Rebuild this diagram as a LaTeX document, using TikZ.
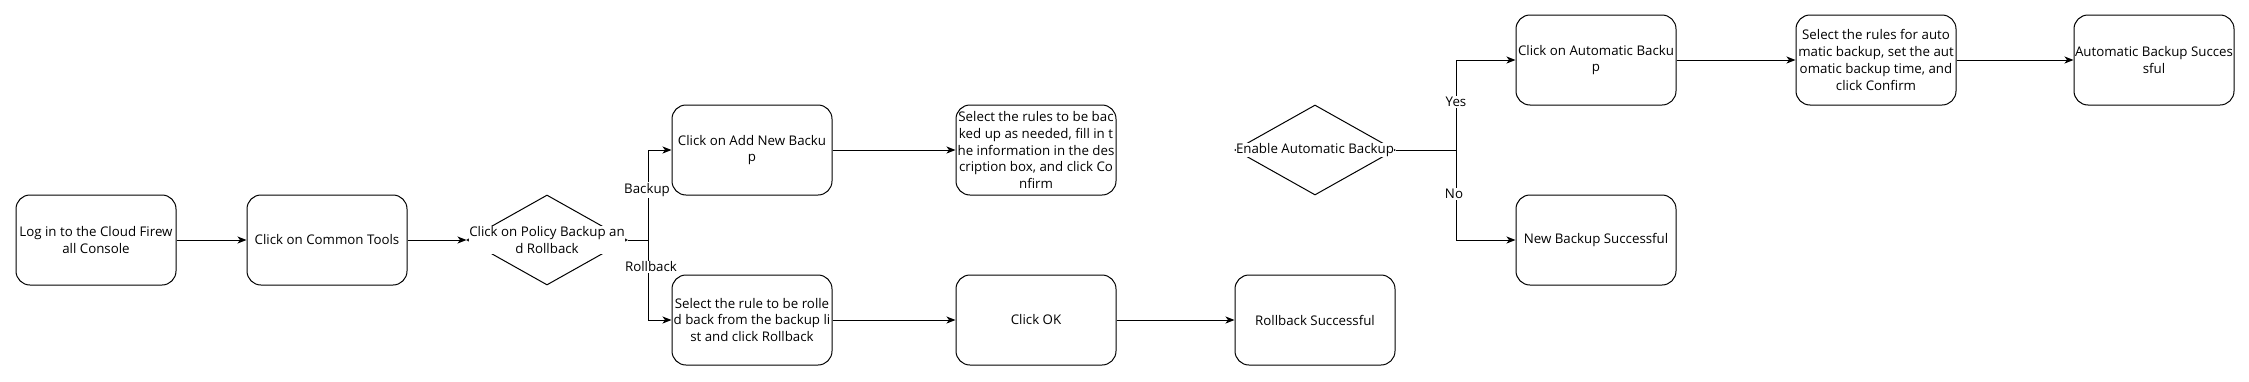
\documentclass[tikz,border=0pt]{standalone}
\usepackage{fontspec}
\setmainfont{Open Sans}
\usetikzlibrary{shapes.geometric,arrows.meta}
\newcommand\myfs{\fontsize{13.3}{16.7}\selectfont}
\begin{document}
\begin{tikzpicture}[x=1pt,y=-1pt,
  box/.style={draw, rounded corners=14pt, minimum width=160pt, minimum height=90pt, inner sep=0pt, align=center, font=\myfs, line width=1pt},
  dia/.style={draw, diamond, minimum width=160pt, minimum height=90pt, inner sep=0pt, line width=1pt},
  txt/.style={fill=white, inner sep=0.5pt, align=center, font=\myfs},
  lbl/.style={fill=white, inner sep=1pt, font=\myfs},
  arr/.style={line width=1pt, -{Stealth[length=9pt,width=7pt,inset=2.5pt]}}]
\fill[white] (0,0) rectangle (2249,381);
\useasboundingbox (0,0) rectangle (2249,381);

\node[box] (login) at (96,240) {Log in to the Cloud Firew\\all Console};
\node[box] (tools) at (327,240) {Click on Common Tools};
\node[dia] (pol) at (547,240) {};
\node[txt] (polt) at (547,240) {Click on Policy Backup an\\d Rollback};
\node[box] (addnew) at (752,150) {Click on Add New Backu\\p};
\node[box] (selrules) at (1036,150) {Select the rules to be bac\\ked up as needed, fill in t\\he information in the des\\cription box, and click Co\\nfirm};
\node[box] (selroll) at (752,320) {Select the rule to be rolle\\d back from the backup li\\st and click Rollback};
\node[box] (ok) at (1036,320) {Click OK};
\node[box] (rbok) at (1315,320) {Rollback Successful};
\node[dia] (auto) at (1315,150) {};
\node[txt] (autot) at (1315,150) {Enable Automatic Backup};
\node[box] (clickauto) at (1596,60) {Click on Automatic Backu\\p};
\node[box] (selauto) at (1876,60) {Select the rules for auto\\matic backup, set the aut\\omatic backup time, and\\click Confirm};
\node[box] (autook) at (2154,60) {Automatic Backup Succes\\sful};
\node[box] (newok) at (1596,240) {New Backup Successful};
\coordinate (j1) at (648,240);
\coordinate (j2) at (1456,150);

\draw[arr] (login) -- (tools);
\draw[arr] (tools) -- (pol);
\draw[arr] (pol.east) -- (j1) |- (addnew.west);
\draw[arr] (j1) |- (selroll.west);
\draw[arr] (addnew) -- (selrules);
\draw[arr] (selroll) -- (ok);
\draw[arr] (ok) -- (rbok);
\draw[arr] (auto.east) -- (j2) |- (clickauto.west);
\draw[arr] (j2) |- (newok.west);
\draw[arr] (clickauto) -- (selauto);
\draw[arr] (selauto) -- (autook);

\node[lbl] (lb1) at (647,190) {Backup};
\node[lbl] (lb2) at (651,267) {Rollback};
\node[lbl] (lb3) at (1456,102) {Yes};
\node[lbl] (lb4) at (1454,194) {No};
\end{tikzpicture}
\end{document}
